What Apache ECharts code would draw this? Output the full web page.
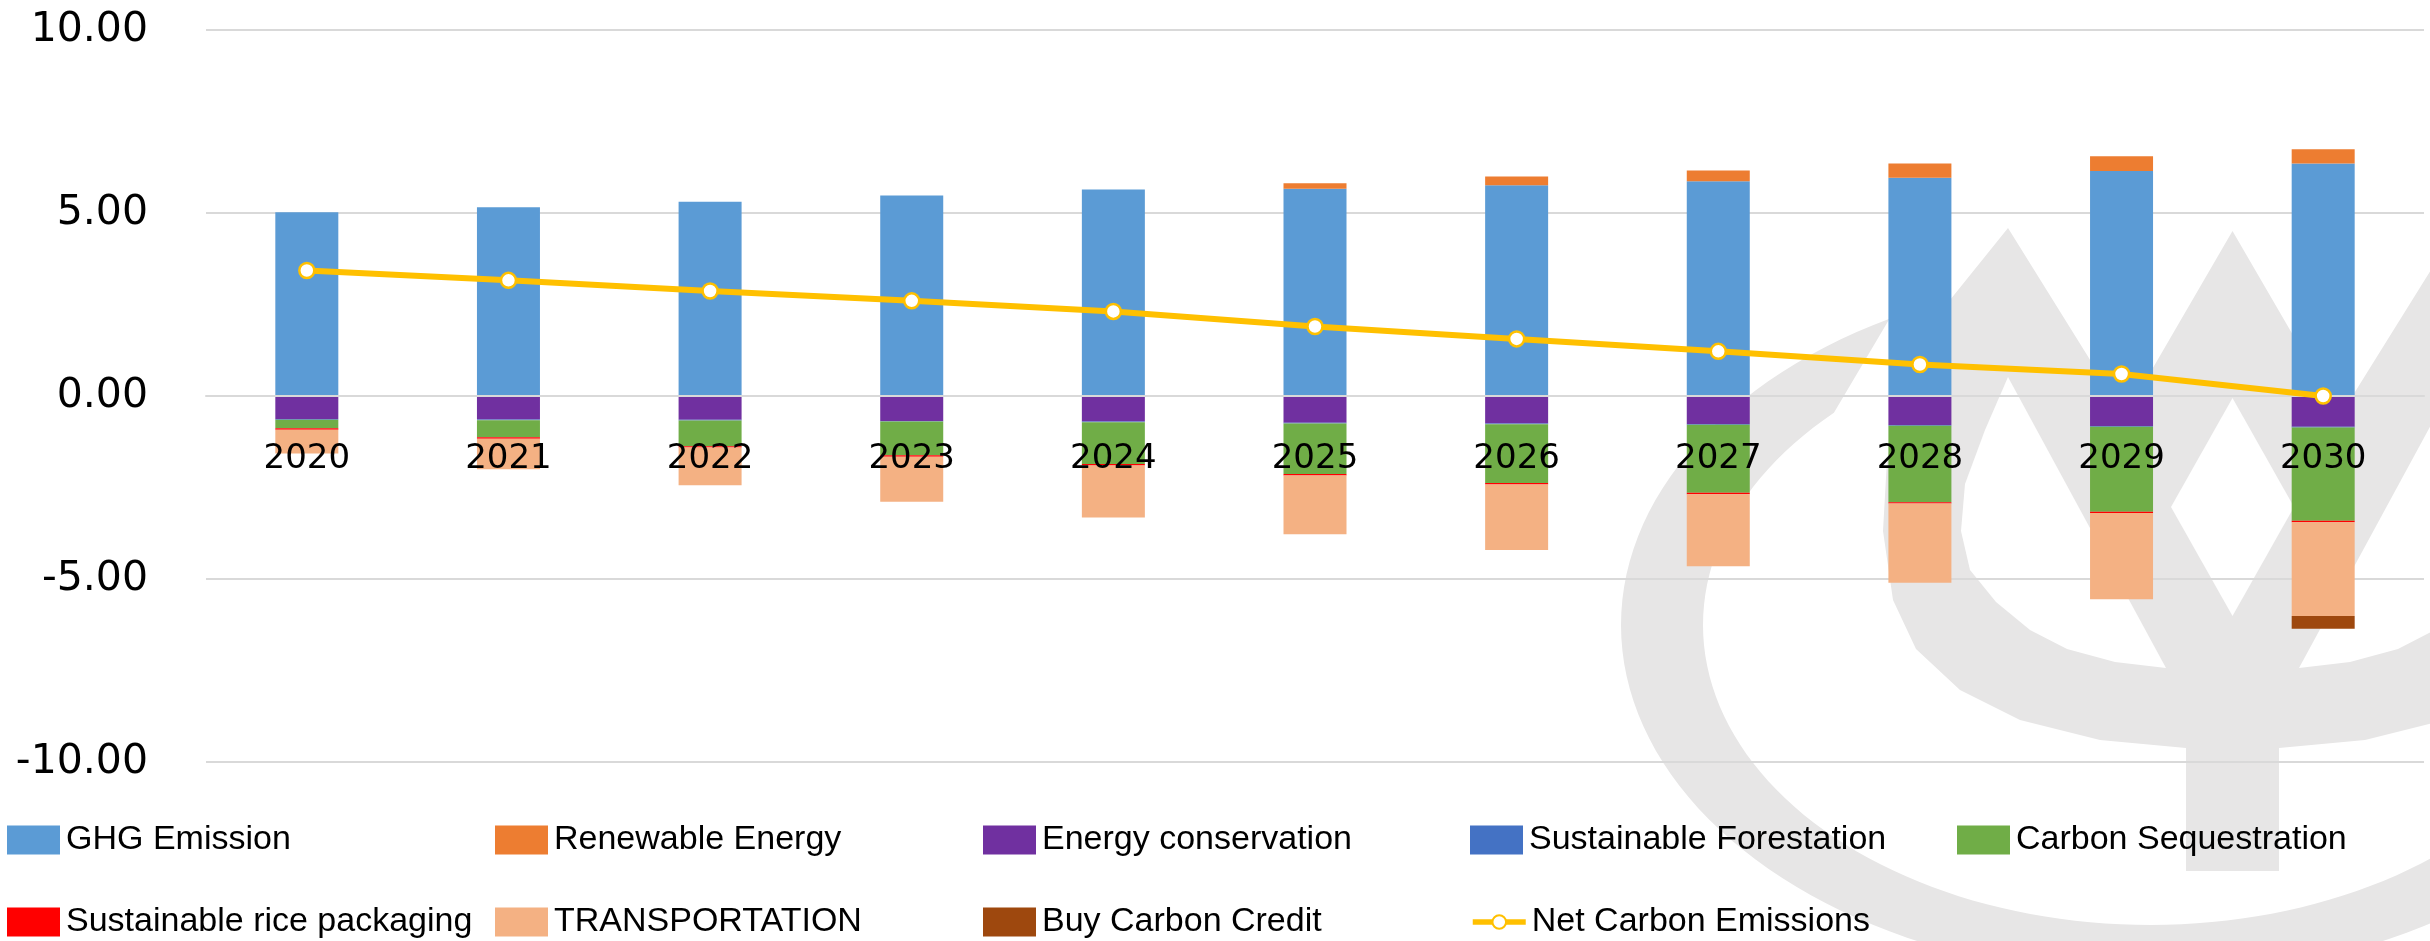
<!DOCTYPE html>
<html>
<head>
<meta charset="utf-8">
<script src="https://cdn.jsdelivr.net/npm/echarts@6/dist/echarts.min.js"></script>
<style>
html,body{margin:0;padding:0;background:#ffffff;}
#chart{width:2430px;height:941px;}
</style>
</head>
<body>
<div id="chart"></div>
<script>
// ---------------- data ----------------
const years = ['2020','2021','2022','2023','2024','2025','2026','2027','2028','2029','2030'];
const ghgEmission            = [5.02, 5.16, 5.31, 5.48, 5.64, 5.66, 5.76, 5.87, 5.96, 6.15, 6.35];
const renewableEnergy        = [0, 0, 0, 0, 0, 0.15, 0.24, 0.29, 0.39, 0.40, 0.39];
const energyConservation     = [-0.63, -0.64, -0.65, -0.68, -0.70, -0.73, -0.75, -0.765, -0.79, -0.82, -0.84];
const sustainableForestation = [-0.02, -0.02, -0.02, -0.02, -0.02, -0.02, -0.02, -0.02, -0.02, -0.02, -0.02];
const carbonSequestration    = [-0.23, -0.47, -0.70, -0.92, -1.14, -1.38, -1.61, -1.86, -2.09, -2.32, -2.55];
const ricePackaging          = [-0.04, -0.04, -0.04, -0.04, -0.04, -0.04, -0.04, -0.04, -0.04, -0.04, -0.04];
const transportation         = [-0.65, -0.83, -1.03, -1.23, -1.42, -1.61, -1.79, -1.97, -2.16, -2.35, -2.56];
const buyCarbonCredit        = [0, 0, 0, 0, 0, 0, 0, 0, 0, 0, -0.35];
const netCarbonEmissions     = [3.43, 3.16, 2.87, 2.60, 2.31, 1.90, 1.56, 1.22, 0.86, 0.60, 0.00];
const yTicks = [-10, -5, 0, 5, 10];

// ---------------- styles ----------------
const barNames  = ['GHG Emission','Renewable Energy','Energy conservation','Sustainable Forestation','Carbon Sequestration','Sustainable rice packaging','TRANSPORTATION','Buy Carbon Credit'];
const barData   = [ghgEmission, renewableEnergy, energyConservation, sustainableForestation, carbonSequestration, ricePackaging, transportation, buyCarbonCredit];
const barColors = ['#5B9BD5','#ED7D31','#7030A0','#4472C4','#70AD47','#FF0000','#F4B183','#9E480E'];
const lineName  = 'Net Carbon Emissions';
const lineColor = '#FFC000';
const axisFont  = 'DejaVu Sans';
const legendFont = 'Liberation Sans';
const gridTop = 30, gridBottom = 179, chartH = 941;

// ---------------- decorative watermark (not data) ----------------
const wmColor = '#e7e6e6';
function ellipseArc(cx, cy, rx, ry, a0, a1, n) {
  const pts = [];
  for (let i = 0; i <= n; i++) {
    const a = (a0 + (a1 - a0) * i / n) * Math.PI / 180;
    pts.push([cx + rx * Math.cos(a), cy + ry * Math.sin(a)]);
  }
  return pts;
}
const ringPts = ellipseArc(2150, 625, 529, 352, 240.5, -10, 120)
  .concat(ellipseArc(2150, 625, 447, 300, -10, 225, 120));
const axisX = 2232.5;
const psiLeft = [[2186,871],[2186,748],[2100,740],[2020,720],[1960,690],[1916,649],[1893,600],[1883,531],[1887,460],[1905,385],[1950,300],[2008,228],[2125,416]];
const psiPts = psiLeft.concat([[axisX,231]]).concat(psiLeft.slice().reverse().map(p => [2*axisX - p[0], p[1]]));
const holeL = [[2008,377],[1985,430],[1965,484],[1961,531],[1970,570],[1996,602],[2030,630],[2067,649],[2115,662],[2166,668]];
const holeR = holeL.map(p => [2*axisX - p[0], p[1]]);
const holeM = [[axisX,398],[2294,507],[axisX,616],[2171,507]];

const graphics = [
  {type:'polygon', silent:true, z:-20, shape:{points:ringPts}, style:{fill:wmColor}},
  {type:'polygon', silent:true, z:-20, shape:{points:psiPts}, style:{fill:wmColor}},
  {type:'polygon', silent:true, z:-19, shape:{points:holeL}, style:{fill:'#ffffff'}},
  {type:'polygon', silent:true, z:-19, shape:{points:holeR}, style:{fill:'#ffffff'}},
  {type:'polygon', silent:true, z:-19, shape:{points:holeM}, style:{fill:'#ffffff'}}
];

// ---------------- legends (one per item, fixed columns) ----------------
const legendItems = barNames.slice(0,5).concat([barNames[5], barNames[6], barNames[7], lineName]);
const colLeft = [7, 495, 983, 1470, 1957];
const rowTop = [823, 905];
const legends = legendItems.map((name, i) => {
  const isLine = name === lineName;
  return {
    data: [name],
    left: colLeft[i % 5],
    top: rowTop[Math.floor(i / 5)],
    padding: 0,
    icon: isLine ? undefined : 'rect',
    itemWidth: 53,
    itemHeight: isLine ? 17 : 29,
    itemGap: 0,
    selectedMode: false,
    lineStyle: isLine ? {width: 5.5, color: lineColor} : undefined,
    textStyle: {fontFamily: legendFont, fontSize: 34, color: '#000000', padding: [0,0,0,1]}
  };
});

const series = barNames.map((name, i) => ({
  name: name,
  type: 'bar',
  stack: 'total',
  barWidth: 63,
  data: barData[i],
  itemStyle: {color: barColors[i]},
  emphasis: {disabled: true}
}));
series.push({
  name: lineName,
  type: 'line',
  data: netCarbonEmissions,
  z: 10,
  symbol: 'circle',
  symbolSize: 15,
  lineStyle: {color: lineColor, width: 6},
  itemStyle: {color: '#ffffff', borderColor: lineColor, borderWidth: 2.5},
  emphasis: {disabled: true}
});

// x axis sits on the zero line: offset from grid bottom to zero position
const plotH = chartH - gridTop - gridBottom;
const zeroOffset = -plotH * (0 - yTicks[0]) / (yTicks[yTicks.length - 1] - yTicks[0]);

const chart = echarts.init(document.getElementById('chart'), null, {renderer: 'canvas'});
chart.setOption({
  animation: false,
  backgroundColor: '#ffffff',
  graphic: graphics,
  legend: legends,
  grid: {left: 206, right: 6, top: gridTop, bottom: gridBottom, containLabel: false},
  xAxis: {
    type: 'category',
    data: years,
    z: 10,
    position: 'bottom',
    offset: zeroOffset,
    axisLine: {show: true, onZero: false, lineStyle: {color: '#d9d9d9', width: 2}},
    axisTick: {show: false},
    axisLabel: {fontFamily: axisFont, fontSize: 34, color: '#000000', margin: 46}
  },
  yAxis: {
    type: 'value',
    min: yTicks[0],
    max: yTicks[yTicks.length - 1],
    interval: 5,
    axisLine: {show: false},
    axisTick: {show: false},
    splitLine: {lineStyle: {color: '#d9d9d9', width: 2}},
    axisLabel: {fontFamily: axisFont, fontSize: 41, color: '#000000', margin: 58,
      formatter: v => v.toFixed(2)}
  },
  series: series
});
</script>
</body>
</html>
